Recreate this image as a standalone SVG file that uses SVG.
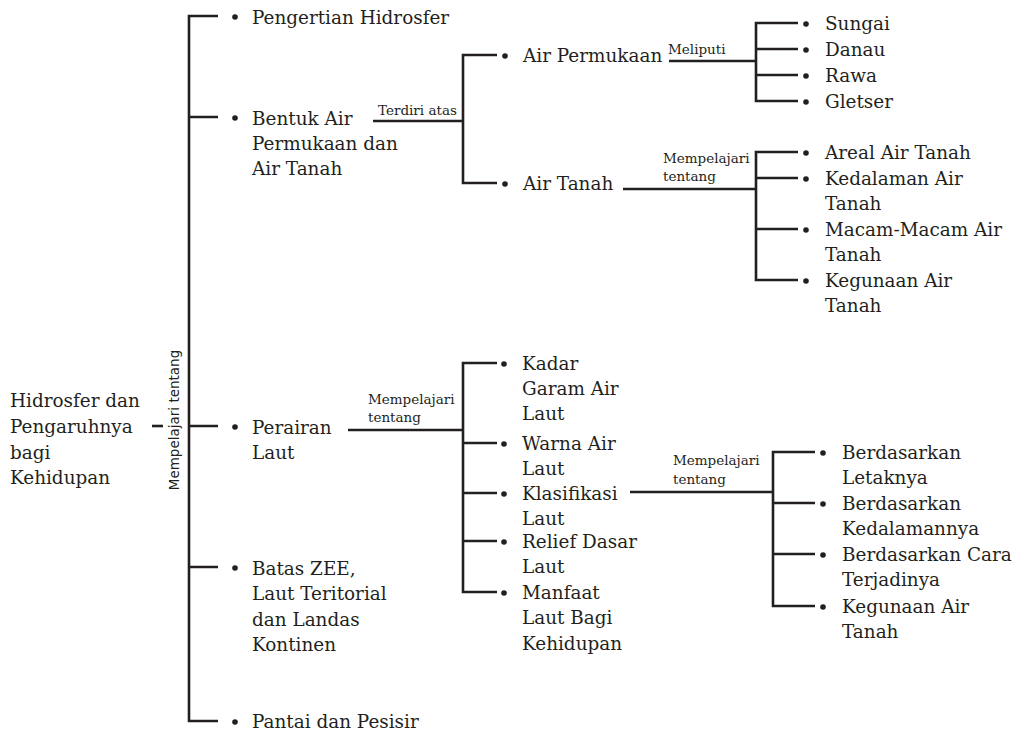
<svg xmlns="http://www.w3.org/2000/svg" width="1016" height="735" viewBox="0 0 1016 735">
<style>
.t{font-family:"DejaVu Serif","Liberation Serif",serif;font-size:18.4px;fill:#231f20}
.s{font-family:"DejaVu Serif","Liberation Serif",serif;font-size:13.5px;fill:#231f20}
.v{font-family:"DejaVu Sans","Liberation Sans",sans-serif;font-size:13.5px;fill:#231f20}
.ln{stroke:#231f20;stroke-width:2.6;fill:none}
.b{fill:#231f20}
</style>
<rect width="1016" height="735" fill="#fff"/>
<g id="connectors" class="ln">
<path d="M152,426H163"/>
<path d="M218,16H189V721H218M189,117H218M189,426H218M189,567H218"/>
<path d="M373,121H463M497,55H463V183H497"/>
<path d="M669,61H756M798,23H756V101H798M756,49H798M756,75H798"/>
<path d="M623,189H756M798,152H756V280H798M756,178H798M756,229H798"/>
<path d="M348,430H463M497,363H463V592H497M463,443H497M463,493H497M463,541H497"/>
<path d="M630,492H773M815,452H773V606H815M773,503H815M773,554H815"/>
</g>
<g id="connector-labels">
<text class="v" transform="translate(179,420) rotate(-90)" text-anchor="middle">Mempelajari tentang</text>
<text class="s" x="378" y="115">Terdiri atas</text>
<text class="s" x="668" y="54">Meliputi</text>
<text class="s" x="663" y="163">Mempelajari</text>
<text class="s" x="663" y="181">tentang</text>
<text class="s" x="368" y="404">Mempelajari</text>
<text class="s" x="368" y="422">tentang</text>
<text class="s" x="673" y="465">Mempelajari</text>
<text class="s" x="673" y="484">tentang</text>
</g>
<g id="root"><text class="t" x="10" y="407">Hidrosfer dan</text><text class="t" x="10" y="433">Pengaruhnya</text><text class="t" x="10" y="459">bagi</text><text class="t" x="10" y="484">Kehidupan</text></g>
<g id="pengertian"><circle class="b" cx="235" cy="17" r="2.8"/><text class="t" x="252" y="24">Pengertian Hidrosfer</text></g>
<g id="bentuk"><circle class="b" cx="235" cy="118" r="2.8"/><text class="t" x="252" y="125">Bentuk Air</text><text class="t" x="252" y="150">Permukaan dan</text><text class="t" x="252" y="175">Air Tanah</text></g>
<g id="perairan"><circle class="b" cx="235" cy="427" r="2.8"/><text class="t" x="252" y="434">Perairan</text><text class="t" x="252" y="459">Laut</text></g>
<g id="batas"><circle class="b" cx="235" cy="568" r="2.8"/><text class="t" x="252" y="575">Batas ZEE,</text><text class="t" x="252" y="600">Laut Teritorial</text><text class="t" x="252" y="626">dan Landas</text><text class="t" x="252" y="651">Kontinen</text></g>
<g id="pantai"><circle class="b" cx="235" cy="722" r="2.8"/><text class="t" x="252" y="728">Pantai dan Pesisir</text></g>
<g id="air-permukaan"><circle class="b" cx="505" cy="56" r="2.8"/><text class="t" x="523" y="62">Air Permukaan</text></g>
<g id="air-tanah"><circle class="b" cx="505" cy="184" r="2.8"/><text class="t" x="523" y="190">Air Tanah</text></g>
<g id="sungai"><circle class="b" cx="806" cy="24" r="2.8"/><text class="t" x="825" y="30">Sungai</text></g>
<g id="danau"><circle class="b" cx="806" cy="50" r="2.8"/><text class="t" x="825" y="56">Danau</text></g>
<g id="rawa"><circle class="b" cx="806" cy="76" r="2.8"/><text class="t" x="825" y="82">Rawa</text></g>
<g id="gletser"><circle class="b" cx="806" cy="102" r="2.8"/><text class="t" x="825" y="108">Gletser</text></g>
<g id="areal"><circle class="b" cx="806" cy="153" r="2.8"/><text class="t" x="825" y="159">Areal Air Tanah</text></g>
<g id="kedalaman"><circle class="b" cx="806" cy="179" r="2.8"/><text class="t" x="825" y="185">Kedalaman Air</text><text class="t" x="825" y="210">Tanah</text></g>
<g id="macam"><circle class="b" cx="806" cy="230" r="2.8"/><text class="t" x="825" y="236">Macam-Macam Air</text><text class="t" x="825" y="261">Tanah</text></g>
<g id="kegunaan-tanah"><circle class="b" cx="806" cy="281" r="2.8"/><text class="t" x="825" y="287">Kegunaan Air</text><text class="t" x="825" y="312">Tanah</text></g>
<g id="kadar"><circle class="b" cx="504" cy="364" r="2.8"/><text class="t" x="522" y="370">Kadar</text><text class="t" x="522" y="395">Garam Air</text><text class="t" x="522" y="420">Laut</text></g>
<g id="warna"><circle class="b" cx="504" cy="444" r="2.8"/><text class="t" x="522" y="450">Warna Air</text><text class="t" x="522" y="475">Laut</text></g>
<g id="klasifikasi"><circle class="b" cx="504" cy="494" r="2.8"/><text class="t" x="522" y="500">Klasifikasi</text><text class="t" x="522" y="525">Laut</text></g>
<g id="relief"><circle class="b" cx="504" cy="542" r="2.8"/><text class="t" x="522" y="548">Relief Dasar</text><text class="t" x="522" y="573">Laut</text></g>
<g id="manfaat"><circle class="b" cx="504" cy="593" r="2.8"/><text class="t" x="522" y="599">Manfaat</text><text class="t" x="522" y="624">Laut Bagi</text><text class="t" x="522" y="650">Kehidupan</text></g>
<g id="letak"><circle class="b" cx="823" cy="453" r="2.8"/><text class="t" x="842" y="459">Berdasarkan</text><text class="t" x="842" y="484">Letaknya</text></g>
<g id="kedalamannya"><circle class="b" cx="823" cy="504" r="2.8"/><text class="t" x="842" y="510">Berdasarkan</text><text class="t" x="842" y="535">Kedalamannya</text></g>
<g id="cara"><circle class="b" cx="823" cy="555" r="2.8"/><text class="t" x="842" y="561">Berdasarkan Cara</text><text class="t" x="842" y="586">Terjadinya</text></g>
<g id="kegunaan-laut"><circle class="b" cx="823" cy="607" r="2.8"/><text class="t" x="842" y="613">Kegunaan Air</text><text class="t" x="842" y="638">Tanah</text></g>
</svg>
